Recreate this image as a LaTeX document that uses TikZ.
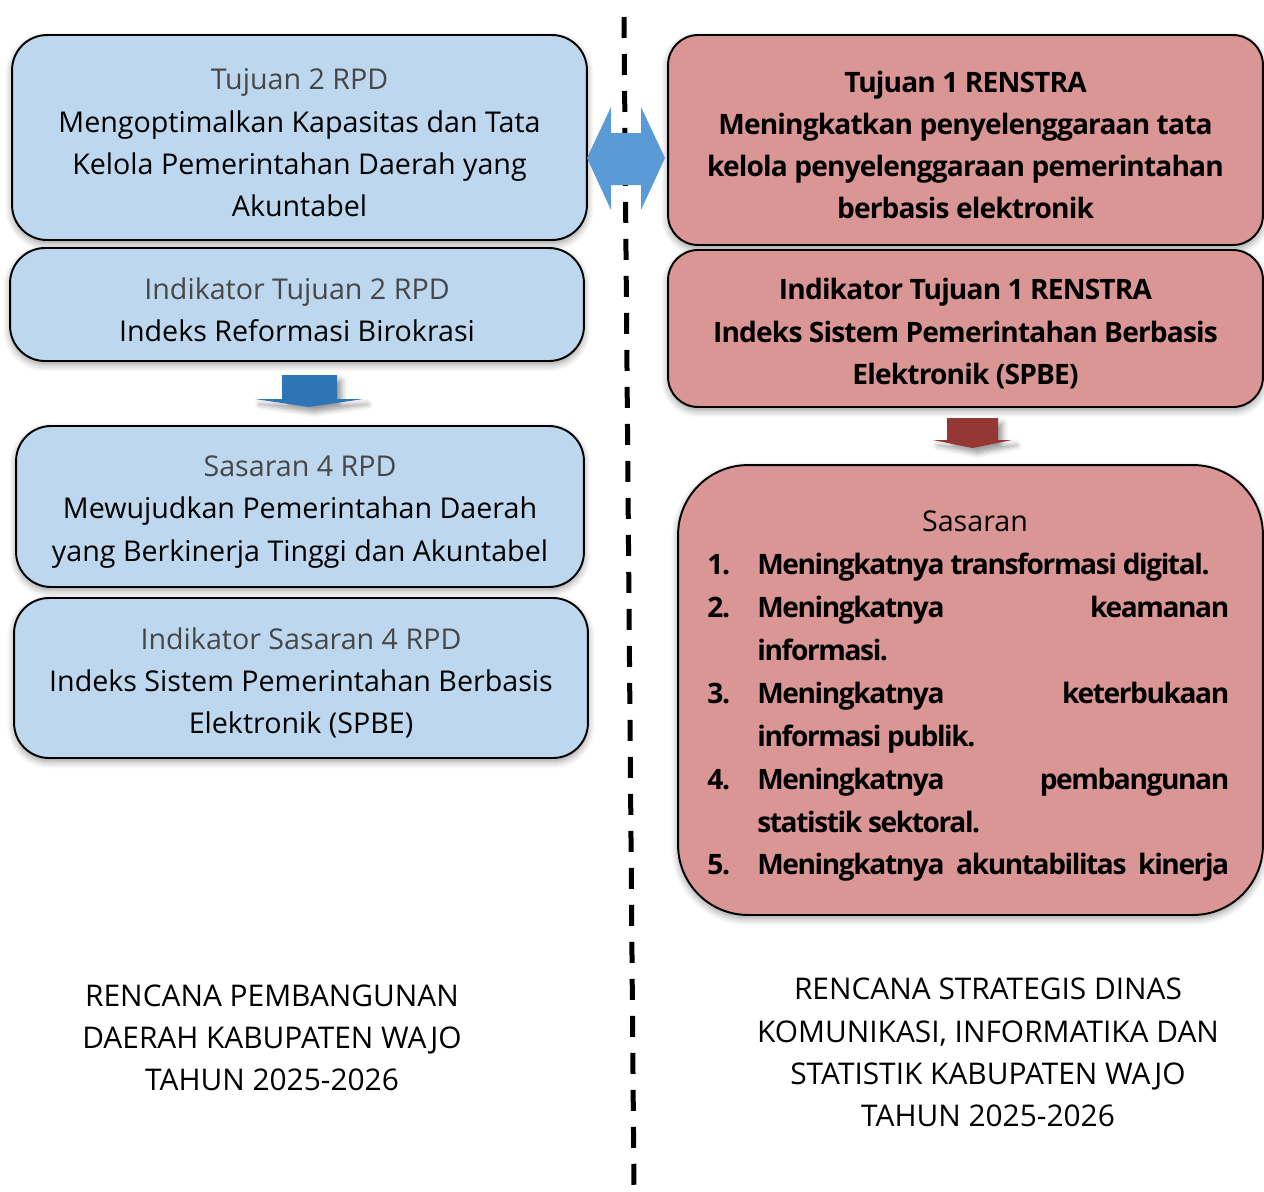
\documentclass[tikz,border=0pt]{standalone}
\usepackage{fontspec}
\setmainfont{Open Sans}
\usetikzlibrary{positioning,shadows.blur}
\definecolor{rpdblue}{RGB}{189,215,238}
\definecolor{renpink}{RGB}{218,150,148}
\definecolor{linkblue}{RGB}{91,155,213}
\definecolor{downblue}{RGB}{46,117,182}
\definecolor{downred}{RGB}{149,55,53}
\newcommand\tp{\rule{0pt}{18pt}}
\newcommand\lite[1]{\tp{\color{black!72}#1}}
\newcommand\semi{\bfseries\addfontfeatures{LetterSpace=-3}}
\newcommand\listfont{\bfseries\addfontfeatures{LetterSpace=-5}}
\newcommand\itm[1]{\noindent\hangindent=1cm\hangafter=1\makebox[1cm][l]{#1}}

\begin{document}
\begin{tikzpicture}[x=0.02cm,y=-0.02cm,>=latex,
  box/.style={draw,line width=1.1pt,align=center,inner sep=0pt,
    blur shadow={shadow blur steps=6,shadow xshift=0pt,shadow yshift=-2pt,shadow blur radius=4pt}},
  rpd/.style={box,fill=rpdblue,rounded corners=0.7cm,font=\fontsize{16.3}{24}\selectfont},
  ren/.style={box,fill=renpink,rounded corners=0.6cm,font=\fontsize{16}{24}\semi},
  caption/.style={align=center,font=\fontsize{17}{24}\selectfont}]
\useasboundingbox (0,0) rectangle (1264,1191);

% the dashed divider
\coordinate (divtop) at (624,17);
\coordinate (divbot) at (634,1191);
\draw[line width=0.1cm,dash pattern=on 0.42cm off 0.32cm] (divtop) -- (divbot);

% left column: RPD
\node[rpd,minimum width=11.5cm,minimum height=4.1cm] (tujrpd) at (299.5,137.5)
  {\lite{Tujuan 2 RPD}\\Mengoptimalkan Kapasitas dan Tata\\Kelola Pemerintahan Daerah yang\\Akuntabel};
\node[rpd,minimum width=11.48cm,minimum height=2.26cm] (indtujrpd) at (297,304.5)
  {\lite{Indikator Tujuan 2 RPD}\\Indeks Reformasi Birokrasi};
\node[rpd,minimum width=11.36cm,minimum height=3.22cm] (sasrpd) at (300,506.5)
  {\lite{Sasaran 4 RPD}\\Mewujudkan Pemerintahan Daerah\\yang Berkinerja Tinggi dan Akuntabel};
\node[rpd,minimum width=11.48cm,minimum height=3.2cm] (indsasrpd) at (301,678)
  {\lite{Indikator Sasaran 4 RPD}\\Indeks Sistem Pemerintahan Berbasis\\Elektronik (SPBE)};

% right column: RENSTRA
\node[ren,minimum width=11.9cm,minimum height=4.2cm] (tujren) at (965.5,140)
  {\tp Tujuan 1 RENSTRA\\Meningkatkan penyelenggaraan tata\\kelola penyelenggaraan pemerintahan\\berbasis elektronik};
\node[ren,minimum width=11.9cm,minimum height=3.14cm] (indtujren) at (965.5,328.5)
  {\tp Indikator Tujuan 1 RENSTRA\\Indeks Sistem Pemerintahan Berbasis\\Elektronik (SPBE)};
\node[ren,rounded corners=1.4cm,minimum width=11.7cm,minimum height=9cm] (sasren) at (970.5,690) {};
\node[font=\fontsize{16.3}{24}\selectfont] (sastitle) at (975,521) {Sasaran};
\node[anchor=north west,inner sep=0pt,text width=10.44cm,align=justify,font=\fontsize{16}{24.4}\listfont] (saslist) at (707,553)
  {\itm{1.}Meningkatnya transformasi digital.\par
   \itm{2.}Meningkatnya keamanan\linebreak informasi.\par
   \itm{3.}Meningkatnya keterbukaan\linebreak informasi publik.\par
   \itm{4.}Meningkatnya pembangunan\linebreak statistik sektoral.\par
   {\parfillskip=0pt\itm{5.}Meningkatnya akuntabilitas kinerja\par}};

% the arrows
\fill[linkblue] (587,158) -- (611,107) -- (611,133) -- (641,133) -- (641,107)
  -- (665,158) -- (641,210) -- (641,185) -- (611,185) -- (611,210) -- cycle;
\fill[downblue,blur shadow={shadow blur steps=5,shadow yshift=-3pt,shadow blur radius=3pt}]
  (282,375) -- (337,375) -- (337,399) -- (363,399) -- (309,407) -- (255,399) -- (282,399) -- cycle;
\fill[downred,blur shadow={shadow blur steps=5,shadow yshift=-3pt,shadow blur radius=3pt}]
  (947,418) -- (998,418) -- (998,440) -- (1012,440) -- (972.5,448) -- (933,440) -- (947,440) -- cycle;

% captions
\node[caption] (caprpd) at (272,1038) {RENCANA PEMBANGUNAN\\DAERAH KABUPATEN WAJO\\TAHUN 2025-2026};
\node[caption] (capren) at (988,1052.5) {RENCANA STRATEGIS DINAS\\KOMUNIKASI, INFORMATIKA DAN\\STATISTIK KABUPATEN WAJO\\TAHUN 2025-2026};
\end{tikzpicture}
\end{document}
